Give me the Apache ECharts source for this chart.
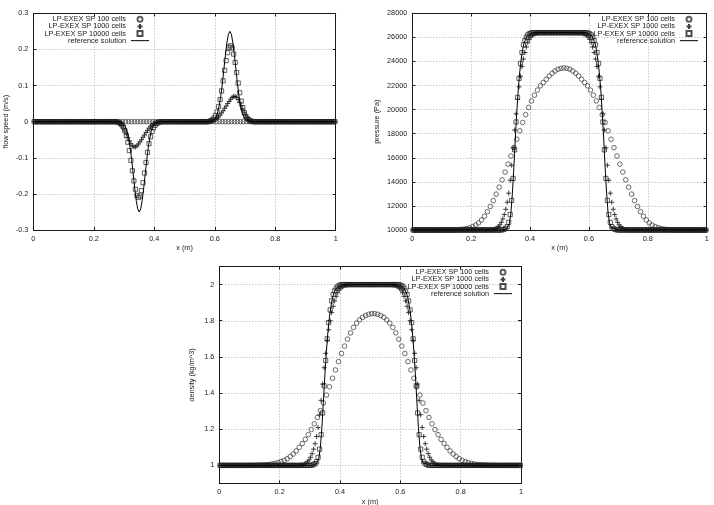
<!DOCTYPE html>
<html>
<head>
<meta charset="utf-8">
<title>LP-EXEX SP</title>
<script src="https://cdn.jsdelivr.net/npm/echarts@6/dist/echarts.min.js"></script>
<style>
  html, body { margin: 0; padding: 0; background: #fff; }
  #chart { width: 714px; height: 505px; }
</style>
</head>
<body>
<div id="chart"></div>
<script>
// cell centres of the 100 cell run
const xs100 = [
  0.005,0.015,0.025,0.035,0.045,0.055,0.065,0.075,0.085,0.095,
  0.105,0.115,0.125,0.135,0.145,0.155,0.165,0.175,0.185,0.195,
  0.205,0.215,0.225,0.235,0.245,0.255,0.265,0.275,0.285,0.295,
  0.305,0.315,0.325,0.335,0.345,0.355,0.365,0.375,0.385,0.395,
  0.405,0.415,0.425,0.435,0.445,0.455,0.465,0.475,0.485,0.495,
  0.505,0.515,0.525,0.535,0.545,0.555,0.565,0.575,0.585,0.595,
  0.605,0.615,0.625,0.635,0.645,0.655,0.665,0.675,0.685,0.695,
  0.705,0.715,0.725,0.735,0.745,0.755,0.765,0.775,0.785,0.795,
  0.805,0.815,0.825,0.835,0.845,0.855,0.865,0.875,0.885,0.895,
  0.905,0.915,0.925,0.935,0.945,0.955,0.965,0.975,0.985,0.995
];
// sampled points of the 1000 and 10000 cell runs
const xsFine = [
  0.0025,0.0075,0.0125,0.0175,0.0225,0.0275,0.0325,0.0375,0.0425,0.0475,
  0.0525,0.0575,0.0625,0.0675,0.0725,0.0775,0.0825,0.0875,0.0925,0.0975,
  0.1025,0.1075,0.1125,0.1175,0.1225,0.1275,0.1325,0.1375,0.1425,0.1475,
  0.1525,0.1575,0.1625,0.1675,0.1725,0.1775,0.1825,0.1875,0.1925,0.1975,
  0.2025,0.2075,0.2125,0.2175,0.2225,0.2275,0.2325,0.2375,0.2425,0.2475,
  0.2525,0.2575,0.2625,0.2675,0.2725,0.2775,0.2825,0.2875,0.2925,0.2975,
  0.3025,0.3075,0.3125,0.3175,0.3225,0.3275,0.3325,0.3375,0.3425,0.3475,
  0.3525,0.3575,0.3625,0.3675,0.3725,0.3775,0.3825,0.3875,0.3925,0.3975,
  0.4025,0.4075,0.4125,0.4175,0.4225,0.4275,0.4325,0.4375,0.4425,0.4475,
  0.4525,0.4575,0.4625,0.4675,0.4725,0.4775,0.4825,0.4875,0.4925,0.4975,
  0.5025,0.5075,0.5125,0.5175,0.5225,0.5275,0.5325,0.5375,0.5425,0.5475,
  0.5525,0.5575,0.5625,0.5675,0.5725,0.5775,0.5825,0.5875,0.5925,0.5975,
  0.6025,0.6075,0.6125,0.6175,0.6225,0.6275,0.6325,0.6375,0.6425,0.6475,
  0.6525,0.6575,0.6625,0.6675,0.6725,0.6775,0.6825,0.6875,0.6925,0.6975,
  0.7025,0.7075,0.7125,0.7175,0.7225,0.7275,0.7325,0.7375,0.7425,0.7475,
  0.7525,0.7575,0.7625,0.7675,0.7725,0.7775,0.7825,0.7875,0.7925,0.7975,
  0.8025,0.8075,0.8125,0.8175,0.8225,0.8275,0.8325,0.8375,0.8425,0.8475,
  0.8525,0.8575,0.8625,0.8675,0.8725,0.8775,0.8825,0.8875,0.8925,0.8975,
  0.9025,0.9075,0.9125,0.9175,0.9225,0.9275,0.9325,0.9375,0.9425,0.9475,
  0.9525,0.9575,0.9625,0.9675,0.9725,0.9775,0.9825,0.9875,0.9925,0.9975
];

// ---- flow speed (m/s)
const speed100 = [
  0,0,0,0,0,0,0,0,0,0, 0,0,0,0,0,0,0,0,0,0,
  0,0,0,0,0,0,0,0,0,0, 0,0,0,0,0,0,0,0,0,0,
  0,0,0,0,0,0,0,0,0,0, 0,0,0,0,0,0,0,0,0,0,
  0,0,0,0,0,0,0,0,0,0, 0,0,0,0,0,0,0,0,0,0,
  0,0,0,0,0,0,0,0,0,0, 0,0,0,0,0,0,0,0,0,0
];
const speed1000 = [
  0,0,0,0,0,0,0,0,0,0, 0,0,0,0,0,0,0,0,0,0,
  0,0,0,0,0,0,0,0,0,0, 0,0,0,0,0,0,0,0,0,0,
  0,0,0,0,0,0,0,0,0,0,
  0,0,0,0,0,-0.001,-0.003,-0.006,-0.011,-0.018,
  -0.026,-0.035,-0.044,-0.053,-0.061,-0.067,-0.07,-0.07,-0.067,-0.062,
  -0.056,-0.05,-0.043,-0.037,-0.03,-0.024,-0.018,-0.013,-0.009,-0.006,
  -0.004,-0.002,-0.001,0,0,0,0,0,0,0,
  0,0,0,0,0,0,0,0,0,0, 0,0,0,0,0,0,0,0,0,0,
  0,0,0,0,0,0,0,0.001,0.002,0.004,
  0.006,0.009,0.013,0.018,0.024,0.03,0.037,0.043,0.05,0.056,
  0.062,0.067,0.07,0.07,0.067,0.061,0.053,0.044,0.035,0.026,
  0.018,0.011,0.006,0.003,0.001,0,0,0,0,0,
  0,0,0,0,0,0,0,0,0,0, 0,0,0,0,0,0,0,0,0,0,
  0,0,0,0,0,0,0,0,0,0, 0,0,0,0,0,0,0,0,0,0,
  0,0,0,0,0,0,0,0,0,0
];
const speed10000 = [
  0,0,0,0,0,0,0,0,0,0, 0,0,0,0,0,0,0,0,0,0,
  0,0,0,0,0,0,0,0,0,0, 0,0,0,0,0,0,0,0,0,0,
  0,0,0,0,0,0,0,0,0,0,
  0,0,0,0,0,-0.001,-0.002,-0.005,-0.009,-0.015,
  -0.025,-0.039,-0.057,-0.08,-0.107,-0.136,-0.164,-0.187,-0.204,-0.21,
  -0.206,-0.191,-0.169,-0.142,-0.113,-0.085,-0.061,-0.042,-0.027,-0.017,
  -0.01,-0.005,-0.003,-0.001,0,0,0,0,0,0,
  0,0,0,0,0,0,0,0,0,0, 0,0,0,0,0,0,0,0,0,0,
  0,0,0,0,0,0,0.001,0.003,0.005,0.01,
  0.017,0.027,0.042,0.061,0.085,0.113,0.142,0.169,0.191,0.206,
  0.21,0.204,0.187,0.164,0.136,0.107,0.08,0.057,0.039,0.025,
  0.015,0.009,0.005,0.002,0.001,0,0,0,0,0,
  0,0,0,0,0,0,0,0,0,0, 0,0,0,0,0,0,0,0,0,0,
  0,0,0,0,0,0,0,0,0,0, 0,0,0,0,0,0,0,0,0,0,
  0,0,0,0,0,0,0,0,0,0
];
const speedRefX = [
  0,0.28,0.29,0.3,0.305,0.31,0.315,0.32,0.325,0.33,0.335,0.34,0.345,
  0.35,0.355,0.36,0.365,0.37,0.375,0.38,0.385,0.39,0.395,0.4,0.41,0.42,
  0.58,0.59,0.6,0.605,0.61,0.615,0.62,0.625,0.63,0.635,0.64,0.645,0.65,
  0.655,0.66,0.665,0.67,0.675,0.68,0.685,0.69,0.695,0.7,0.71,0.72,1
];
const speedRef = [
  0,0,-0.0017,-0.008,-0.015,-0.027,-0.046,-0.072,-0.105,-0.144,-0.183,-0.218,-0.2415,
  -0.25,-0.2415,-0.218,-0.183,-0.144,-0.105,-0.072,-0.046,-0.027,-0.015,-0.008,-0.0017,0,
  0,0.0017,0.008,0.015,0.027,0.046,0.072,0.105,0.144,0.183,0.218,0.2415,0.25,
  0.2415,0.218,0.183,0.144,0.105,0.072,0.046,0.027,0.015,0.008,0.0017,0,0
];

// ---- pressure (Pa)
const pressure100 = [
  10000,10000,10000,10000,10000,10000,10000,10000,10000,10000,
  10000,10000,10002,10006,10012,10025,10045,10075,10120,10185,
  10280,10410,10590,10830,11140,11520,11950,12440,12980,13560,
  14170,14810,15470,16150,16840,17540,18240,18930,19580,20180,
  20720,21200,21620,21980,22250,22520,22790,23020,23210,23350,
  23430,23460,23430,23350,23210,23020,22790,22520,22250,21980,
  21620,21200,20720,20180,19580,18930,18240,17540,16840,16150,
  15470,14810,14170,13560,12980,12440,11950,11520,11140,10830,
  10590,10410,10280,10185,10120,10075,10045,10025,10012,10006,
  10002,10000,10000,10000,10000,10000,10000,10000,10000,10000
];
const pressure1000 = [
  10000,10000,10000,10000,10000,10000,10000,10000,10000,10000,
  10000,10000,10000,10000,10000,10000,10000,10000,10000,10000,
  10000,10000,10000,10000,10000,10000,10000,10000,10000,10000,
  10000,10000,10000,10000,10000,10000,10000,10000,10000,10000,
  10000,10000,10000,10000,10000,10000,10000,10000,10000,10000,
  10000,10000,10000,10014,10028,10056,10098,10168,10281,10423,
  10635,10922,11282,11719,12310,13059,14128,15380,16824,18303,
  19648,20846,21890,22772,23572,24200,24742,25197,25563,25838,
  26022,26150,26242,26298,26335,26372,26390,26390,26390,26390,
  26390,26390,26390,26390,26390,26390,26390,26390,26390,26390,
  26390,26390,26390,26390,26390,26390,26390,26390,26390,26390,
  26390,26390,26390,26390,26372,26335,26298,26242,26150,26022,
  25838,25563,25197,24742,24200,23572,22772,21890,20846,19648,
  18303,16824,15380,14128,13059,12310,11719,11282,10922,10635,
  10423,10281,10168,10098,10056,10028,10014,10000,10000,10000,
  10000,10000,10000,10000,10000,10000,10000,10000,10000,10000,
  10000,10000,10000,10000,10000,10000,10000,10000,10000,10000,
  10000,10000,10000,10000,10000,10000,10000,10000,10000,10000,
  10000,10000,10000,10000,10000,10000,10000,10000,10000,10000,
  10000,10000,10000,10000,10000,10000,10000,10000,10000,10000
];
const pressure10000 = [
  10000,10000,10000,10000,10000,10000,10000,10000,10000,10000,
  10000,10000,10000,10000,10000,10000,10000,10000,10000,10000,
  10000,10000,10000,10000,10000,10000,10000,10000,10000,10000,
  10000,10000,10000,10000,10000,10000,10000,10000,10000,10000,
  10000,10000,10000,10000,10000,10000,10000,10000,10000,10000,
  10000,10000,10000,10000,10000,10000,10000,10000,10000,10000,
  10000,10028,10070,10140,10281,10635,11282,12458,14283,16661,
  18972,21019,22594,23841,24742,25379,25746,26022,26205,26298,
  26353,26390,26390,26390,26390,26390,26390,26390,26390,26390,
  26390,26390,26390,26390,26390,26390,26390,26390,26390,26390,
  26390,26390,26390,26390,26390,26390,26390,26390,26390,26390,
  26390,26390,26390,26390,26390,26390,26390,26390,26390,26353,
  26298,26205,26022,25746,25379,24742,23841,22594,21019,18972,
  16661,14283,12458,11282,10635,10281,10140,10070,10028,10000,
  10000,10000,10000,10000,10000,10000,10000,10000,10000,10000,
  10000,10000,10000,10000,10000,10000,10000,10000,10000,10000,
  10000,10000,10000,10000,10000,10000,10000,10000,10000,10000,
  10000,10000,10000,10000,10000,10000,10000,10000,10000,10000,
  10000,10000,10000,10000,10000,10000,10000,10000,10000,10000,
  10000,10000,10000,10000,10000,10000,10000,10000,10000,10000
];
const stateRefX = [
  0,0.3,0.32,0.325,0.33,0.335,0.34,0.345,0.35,0.355,0.36,0.365,0.37,0.375,0.38,0.39,0.4,0.41,
  0.59,0.6,0.61,0.62,0.625,0.63,0.635,0.64,0.645,0.65,0.655,0.66,0.665,0.67,0.675,0.68,0.7,1
];
const pressureRef = [
  10000,10000,10070,10211,10564,11428,13059,15222,17641,19818,21715,23126,24200,25015,25563,26114,26316,26390,
  26390,26316,26114,25563,25015,24200,23126,21715,19818,17641,15222,13059,11428,10564,10211,10070,10000,10000
];

// ---- density (kg/m^3)
const density100 = [
  1,1,1,1,1,1,1,1,1,1,
  1,1.001,1.001,1.002,1.003,1.004,1.005,1.008,1.011,1.016,
  1.021,1.028,1.037,1.049,1.063,1.08,1.1,1.121,1.144,1.17,
  1.198,1.23,1.265,1.303,1.345,1.389,1.435,1.482,1.528,1.574,
  1.619,1.66,1.698,1.733,1.763,1.787,1.805,1.819,1.829,1.836,
  1.839,1.839,1.836,1.829,1.819,1.805,1.787,1.763,1.733,1.698,
  1.66,1.619,1.574,1.528,1.482,1.435,1.389,1.345,1.303,1.265,
  1.23,1.198,1.17,1.144,1.121,1.1,1.08,1.063,1.049,1.037,
  1.028,1.021,1.016,1.011,1.008,1.005,1.004,1.003,1.002,1.001,
  1.001,1,1,1,1,1,1,1,1,1
];
const density1000 = [
  1,1,1,1,1,1,1,1,1,1, 1,1,1,1,1,1,1,1,1,1,
  1,1,1,1,1,1,1,1,1,1, 1,1,1,1,1,1,1,1,1,1,
  1,1,1,1,1,1,1,1,1,1,
  1,1,1,1.001,1.002,1.004,1.007,1.012,1.02,1.03,
  1.045,1.065,1.09,1.12,1.16,1.21,1.28,1.36,1.45,1.54,
  1.62,1.69,1.75,1.8,1.845,1.88,1.91,1.935,1.955,1.97,
  1.98,1.987,1.992,1.995,1.997,1.999,2,2,2,2,
  2,2,2,2,2,2,2,2,2,2, 2,2,2,2,2,2,2,2,2,2,
  2,2,2,2,1.999,1.997,1.995,1.992,1.987,1.98,
  1.97,1.955,1.935,1.91,1.88,1.845,1.8,1.75,1.69,1.62,
  1.54,1.45,1.36,1.28,1.21,1.16,1.12,1.09,1.065,1.045,
  1.03,1.02,1.012,1.007,1.004,1.002,1.001,1,1,1,
  1,1,1,1,1,1,1,1,1,1, 1,1,1,1,1,1,1,1,1,1,
  1,1,1,1,1,1,1,1,1,1, 1,1,1,1,1,1,1,1,1,1,
  1,1,1,1,1,1,1,1,1,1
];
const density10000 = [
  1,1,1,1,1,1,1,1,1,1, 1,1,1,1,1,1,1,1,1,1,
  1,1,1,1,1,1,1,1,1,1, 1,1,1,1,1,1,1,1,1,1,
  1,1,1,1,1,1,1,1,1,1, 1,1,1,1,1,1,1,1,1,1,
  1,1.002,1.005,1.01,1.02,1.045,1.09,1.17,1.29,1.44,
  1.58,1.7,1.79,1.86,1.91,1.945,1.965,1.98,1.99,1.995,
  1.998,2,2,2,2,2,2,2,2,2,
  2,2,2,2,2,2,2,2,2,2, 2,2,2,2,2,2,2,2,2,2,
  2,2,2,2,2,2,2,2,2,1.998,
  1.995,1.99,1.98,1.965,1.945,1.91,1.86,1.79,1.7,1.58,
  1.44,1.29,1.17,1.09,1.045,1.02,1.01,1.005,1.002,1,
  1,1,1,1,1,1,1,1,1,1, 1,1,1,1,1,1,1,1,1,1,
  1,1,1,1,1,1,1,1,1,1, 1,1,1,1,1,1,1,1,1,1,
  1,1,1,1,1,1,1,1,1,1, 1,1,1,1,1,1,1,1,1,1
];
const densityRef = [
  1,1,1.005,1.015,1.04,1.1,1.21,1.35,1.5,1.63,1.74,1.82,1.88,1.925,1.955,1.985,1.996,2,
  2,1.996,1.985,1.955,1.925,1.88,1.82,1.74,1.63,1.5,1.35,1.21,1.1,1.04,1.015,1.005,1,1
];

const xTicks = [0, 1, 0.2];          // min, max, step
const speedTicks = [-0.3, 0.3, 0.1];
const pressureTicks = [10000, 28000, 2000];
const densityTicks = [1, 2, 0.2];    // labelled part
const densityRange = [0.9, 2.1];     // full plot range

const names = ['LP-EXEX SP 100 cells', 'LP-EXEX SP 1000 cells', 'LP-EXEX SP 10000 cells', 'reference solution'];

const FONT = 'Liberation Sans';
const FS = 7.3;
const INK = '#1a1a1a';
const GRIDLINE = '#9a9a9a';
const PLUS = 'path://M0,5L10,5M5,0L5,10';
const SQUARE = 'path://M0,0L10,0L10,10L0,10Z';
// thin bar inside an 18x5 box, for the line sample in the key
const LINE_KEY = 'path://M0,0M18,5M0,2L18,2L18,3L0,3Z';

const pairs = (xs, ys) => xs.map((x, i) => [x, ys[i]]);

const grids = [
  { left: 33.4, top: 13.3, width: 302.3, height: 216.7 },
  { left: 412.3, top: 13.3, width: 294.4, height: 216.7 },
  { left: 219.3, top: 266.5, width: 301.7, height: 217 },
  // inner band carrying the density ticks 1..2
  { left: 219.3, top: 266.5 + 217 / 12, width: 301.7, height: 217 * 10 / 12 }
].map(g => Object.assign({ containLabel: false, outerBoundsMode: 'none' }, g));

const tickStyle = { show: true, inside: true, length: 3, lineStyle: { color: INK, width: 1 } };
const lineStyleAxis = { show: true, onZero: false, lineStyle: { color: INK, width: 1 } };
const labelStyle = { color: INK, fontFamily: FONT, fontSize: FS };
const splitStyle = { show: true, lineStyle: { color: GRIDLINE, width: 0.8, type: [1, 2] } };

function bottomAxis(gridIndex) {
  return {
    type: 'value', gridIndex, position: 'bottom',
    min: xTicks[0], max: xTicks[1], interval: xTicks[2],
    name: 'x (m)', nameLocation: 'middle', nameGap: 14.5,
    nameTextStyle: labelStyle,
    axisLine: lineStyleAxis, axisTick: tickStyle,
    axisLabel: Object.assign({ margin: 5 }, labelStyle),
    splitLine: splitStyle
  };
}
function topAxis(gridIndex) {
  return {
    type: 'value', gridIndex, position: 'top',
    min: xTicks[0], max: xTicks[1], interval: xTicks[2],
    axisLine: lineStyleAxis, axisTick: tickStyle,
    axisLabel: { show: false }, splitLine: { show: false }
  };
}
function leftAxis(gridIndex, ticks, name, gap) {
  return {
    type: 'value', gridIndex, position: 'left',
    min: ticks[0], max: ticks[1], interval: ticks[2],
    name, nameLocation: 'middle', nameGap: gap,
    nameTextStyle: labelStyle,
    axisLine: lineStyleAxis, axisTick: tickStyle,
    axisLabel: Object.assign({ margin: 5, formatter: v => String(+v.toFixed(6)) }, labelStyle),
    splitLine: splitStyle
  };
}
function rightAxis(gridIndex, ticks, showLine) {
  return {
    type: 'value', gridIndex, position: 'right',
    min: ticks[0], max: ticks[1], interval: ticks[2],
    axisLine: showLine ? lineStyleAxis : { show: false }, axisTick: tickStyle,
    axisLabel: { show: false }, splitLine: { show: false }
  };
}

const xAxis = [
  bottomAxis(0), bottomAxis(1), bottomAxis(2),
  topAxis(0), topAxis(1), topAxis(2),
  { type: 'value', gridIndex: 3, min: 0, max: 1, show: false }
];
const yAxis = [
  leftAxis(0, speedTicks, 'flow speed (m/s)', 24),
  leftAxis(1, pressureTicks, 'pressure (Pa)', 32),
  // data axis of the density plot, no ticks of its own
  { type: 'value', gridIndex: 2, min: densityRange[0], max: densityRange[1],
    axisLine: lineStyleAxis, axisTick: { show: false }, axisLabel: { show: false }, splitLine: { show: false } },
  rightAxis(0, speedTicks, true),
  rightAxis(1, pressureTicks, true),
  { type: 'value', gridIndex: 2, position: 'right', min: densityRange[0], max: densityRange[1],
    axisLine: lineStyleAxis, axisTick: { show: false }, axisLabel: { show: false }, splitLine: { show: false } },
  // labelled density ticks on the inner band
  Object.assign(leftAxis(3, densityTicks, 'density (kg/m^3)', 24), { axisLine: { show: false } }),
  rightAxis(3, densityTicks, false)
];

function plotSeries(xi, yi, s100, s1000, s10000, refX, refY) {
  const common = { type: 'scatter', xAxisIndex: xi, yAxisIndex: yi, silent: true };
  return [
    Object.assign({
      name: names[0], symbol: 'circle', symbolSize: 4.6,
      itemStyle: { color: 'rgba(255,255,255,0)', borderColor: '#333', borderWidth: 0.9 },
      data: pairs(xs100, s100)
    }, common),
    Object.assign({
      name: names[1], symbol: PLUS, symbolSize: 5,
      itemStyle: { color: 'rgba(255,255,255,0)', borderColor: '#111', borderWidth: 1 },
      data: pairs(xsFine, s1000)
    }, common),
    Object.assign({
      name: names[2], symbol: SQUARE, symbolSize: 4.2,
      itemStyle: { color: 'rgba(255,255,255,0)', borderColor: '#222', borderWidth: 0.9 },
      data: pairs(xsFine, s10000)
    }, common),
    {
      name: names[3], type: 'line', xAxisIndex: xi, yAxisIndex: yi, silent: true,
      symbol: 'none', smooth: false,
      lineStyle: { color: '#000', width: 1 }, itemStyle: { color: '#000' },
      data: pairs(refX, refY)
    }
  ];
}

function legendAt(right, top) {
  return {
    orient: 'vertical', align: 'right', right, top, padding: 0,
    itemWidth: 18, itemHeight: 5, itemGap: 0, selectedMode: false,
    textStyle: { color: INK, fontFamily: FONT, fontSize: FS, lineHeight: 7.1 },
    data: [
      names[0], names[1], names[2],
      { name: names[3], icon: LINE_KEY, itemStyle: { color: '#000', borderWidth: 0 } }
    ]
  };
}

const option = {
  animation: false,
  backgroundColor: '#fff',
  grid: grids,
  xAxis,
  yAxis,
  legend: [legendAt(565, 15.8), legendAt(16, 15.8), legendAt(202, 268.8)],
  series: [
    ...plotSeries(0, 0, speed100, speed1000, speed10000, speedRefX, speedRef),
    ...plotSeries(1, 1, pressure100, pressure1000, pressure10000, stateRefX, pressureRef),
    ...plotSeries(2, 2, density100, density1000, density10000, stateRefX, densityRef)
  ]
};

const chart = echarts.init(document.getElementById('chart'), null, { renderer: 'canvas' });
chart.setOption(option);
window.addEventListener('resize', () => chart.resize());
</script>
</body>
</html>
